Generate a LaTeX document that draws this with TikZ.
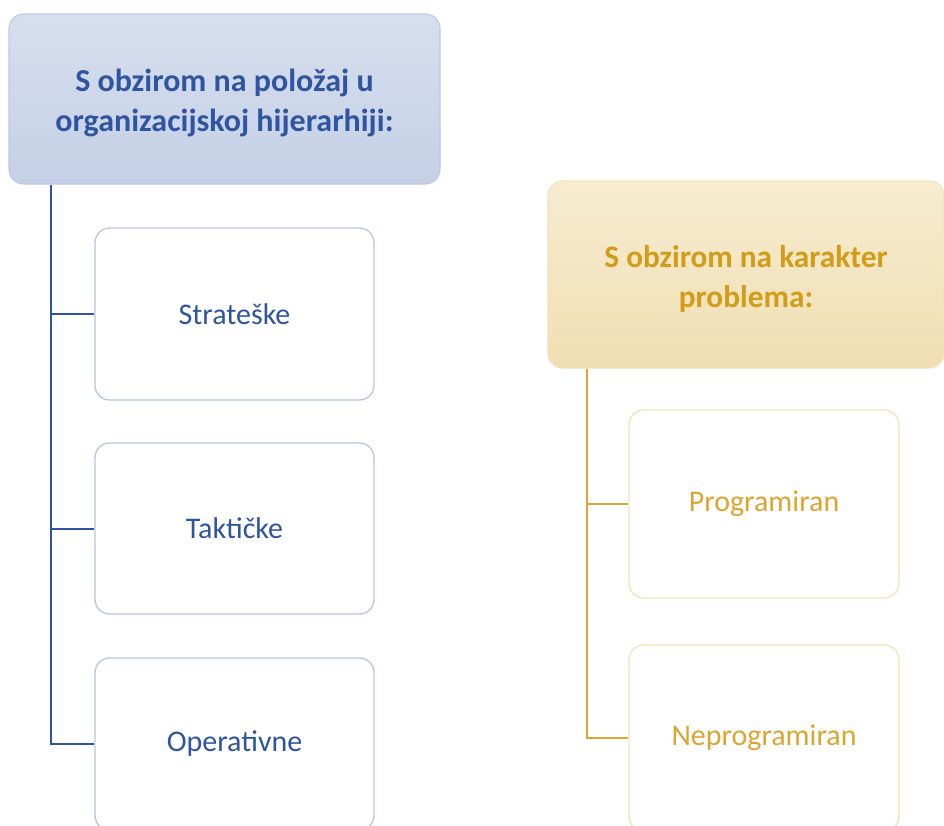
\documentclass[tikz,border=0pt]{standalone}
\usepackage{fontspec}
\setmainfont{Carlito}
\usetikzlibrary{calc}
\definecolor{bText}{HTML}{2F55A0}
\definecolor{bTop}{HTML}{D7DFEE}
\definecolor{bBot}{HTML}{C5D0E6}
\definecolor{bEdge}{HTML}{BCC9E3}
\definecolor{bChild}{HTML}{B8C7E5}
\definecolor{yText}{HTML}{D29C18}
\definecolor{yChildText}{HTML}{DCA530}
\definecolor{yTop}{HTML}{F7ECD1}
\definecolor{yBot}{HTML}{F0DFB2}
\definecolor{yEdge}{HTML}{F1E2BA}
\definecolor{yChild}{HTML}{F4E4B8}
\definecolor{yLine}{HTML}{DDA53A}
\begin{document}
\begin{tikzpicture}[x=0.75pt,y=-0.75pt,
  hdr/.style={rounded corners=11pt,line width=0.8pt,align=center,inner sep=0pt},
  hdrB/.style={hdr,draw=bEdge,top color=bTop,bottom color=bBot,text=bText,font=\bfseries\fontsize{24}{29.5}\selectfont},
  hdrY/.style={hdr,draw=yEdge,top color=yTop,bottom color=yBot,text=yText,font=\bfseries\fontsize{23.5}{30.5}\selectfont},
  child/.style={rounded corners=11pt,line width=1pt,fill=white,align=center,font=\fontsize{22.5}{27}\selectfont,inner sep=0pt},
  childB/.style={child,draw=bChild,text=bText},
  childY/.style={child,draw=yChild,text=yChildText},
  connB/.style={draw=bText,line width=1.5pt},
  connY/.style={draw=yLine,line width=1.5pt}]
\useasboundingbox (0,0) rectangle (944,825);
\clip (0,0) rectangle (944,825);
\fill[white] (0,0) rectangle (944,825);
% blue group
\node[hdrB,minimum width=431*0.75pt,minimum height=170*0.75pt] (hb) at (224.5,99) {};
\node[text=bText,font=\bfseries\fontsize{24}{29.5}\selectfont,align=center,inner sep=0pt] (hbt) at (224.5,103) {S obzirom na položaj u\\organizacijskoj hijerarhiji:};
\node[childB,minimum width=279*0.75pt,minimum height=172*0.75pt] (str) at (234.5,314) {Strateške};
\node[childB,minimum width=279*0.75pt,minimum height=171*0.75pt] (tak) at (234.5,528.5) {Taktičke};
\node[childB,minimum width=279*0.75pt,minimum height=172*0.75pt] (ope) at (234.5,744) {Operativne};
\coordinate (sb) at ($(hb.south west)+(43,0)$);
\draw[connB] (sb) |- (ope.west);
\draw[connB] (sb) |- (str.west);
\draw[connB] (sb) |- (tak.west);
% yellow group
\node[hdrY,minimum width=396*0.75pt,minimum height=187*0.75pt] (hy) at (746,274.5) {};
\node[text=yText,font=\bfseries\fontsize{23.5}{30.5}\selectfont,align=center,inner sep=0pt] (hyt) at (746,279) {S obzirom na karakter\\problema:};
\node[childY,minimum width=270*0.75pt,minimum height=188*0.75pt] (pro) at (764,504) {Programiran};
\node[childY,minimum width=270*0.75pt,minimum height=186*0.75pt] (nep) at (764,738) {Neprogramiran};
\coordinate (sy) at ($(hy.south west)+(40,0)$);
\draw[connY] (sy) |- (nep.west);
\draw[connY] (sy) |- (pro.west);
\end{tikzpicture}
\end{document}
